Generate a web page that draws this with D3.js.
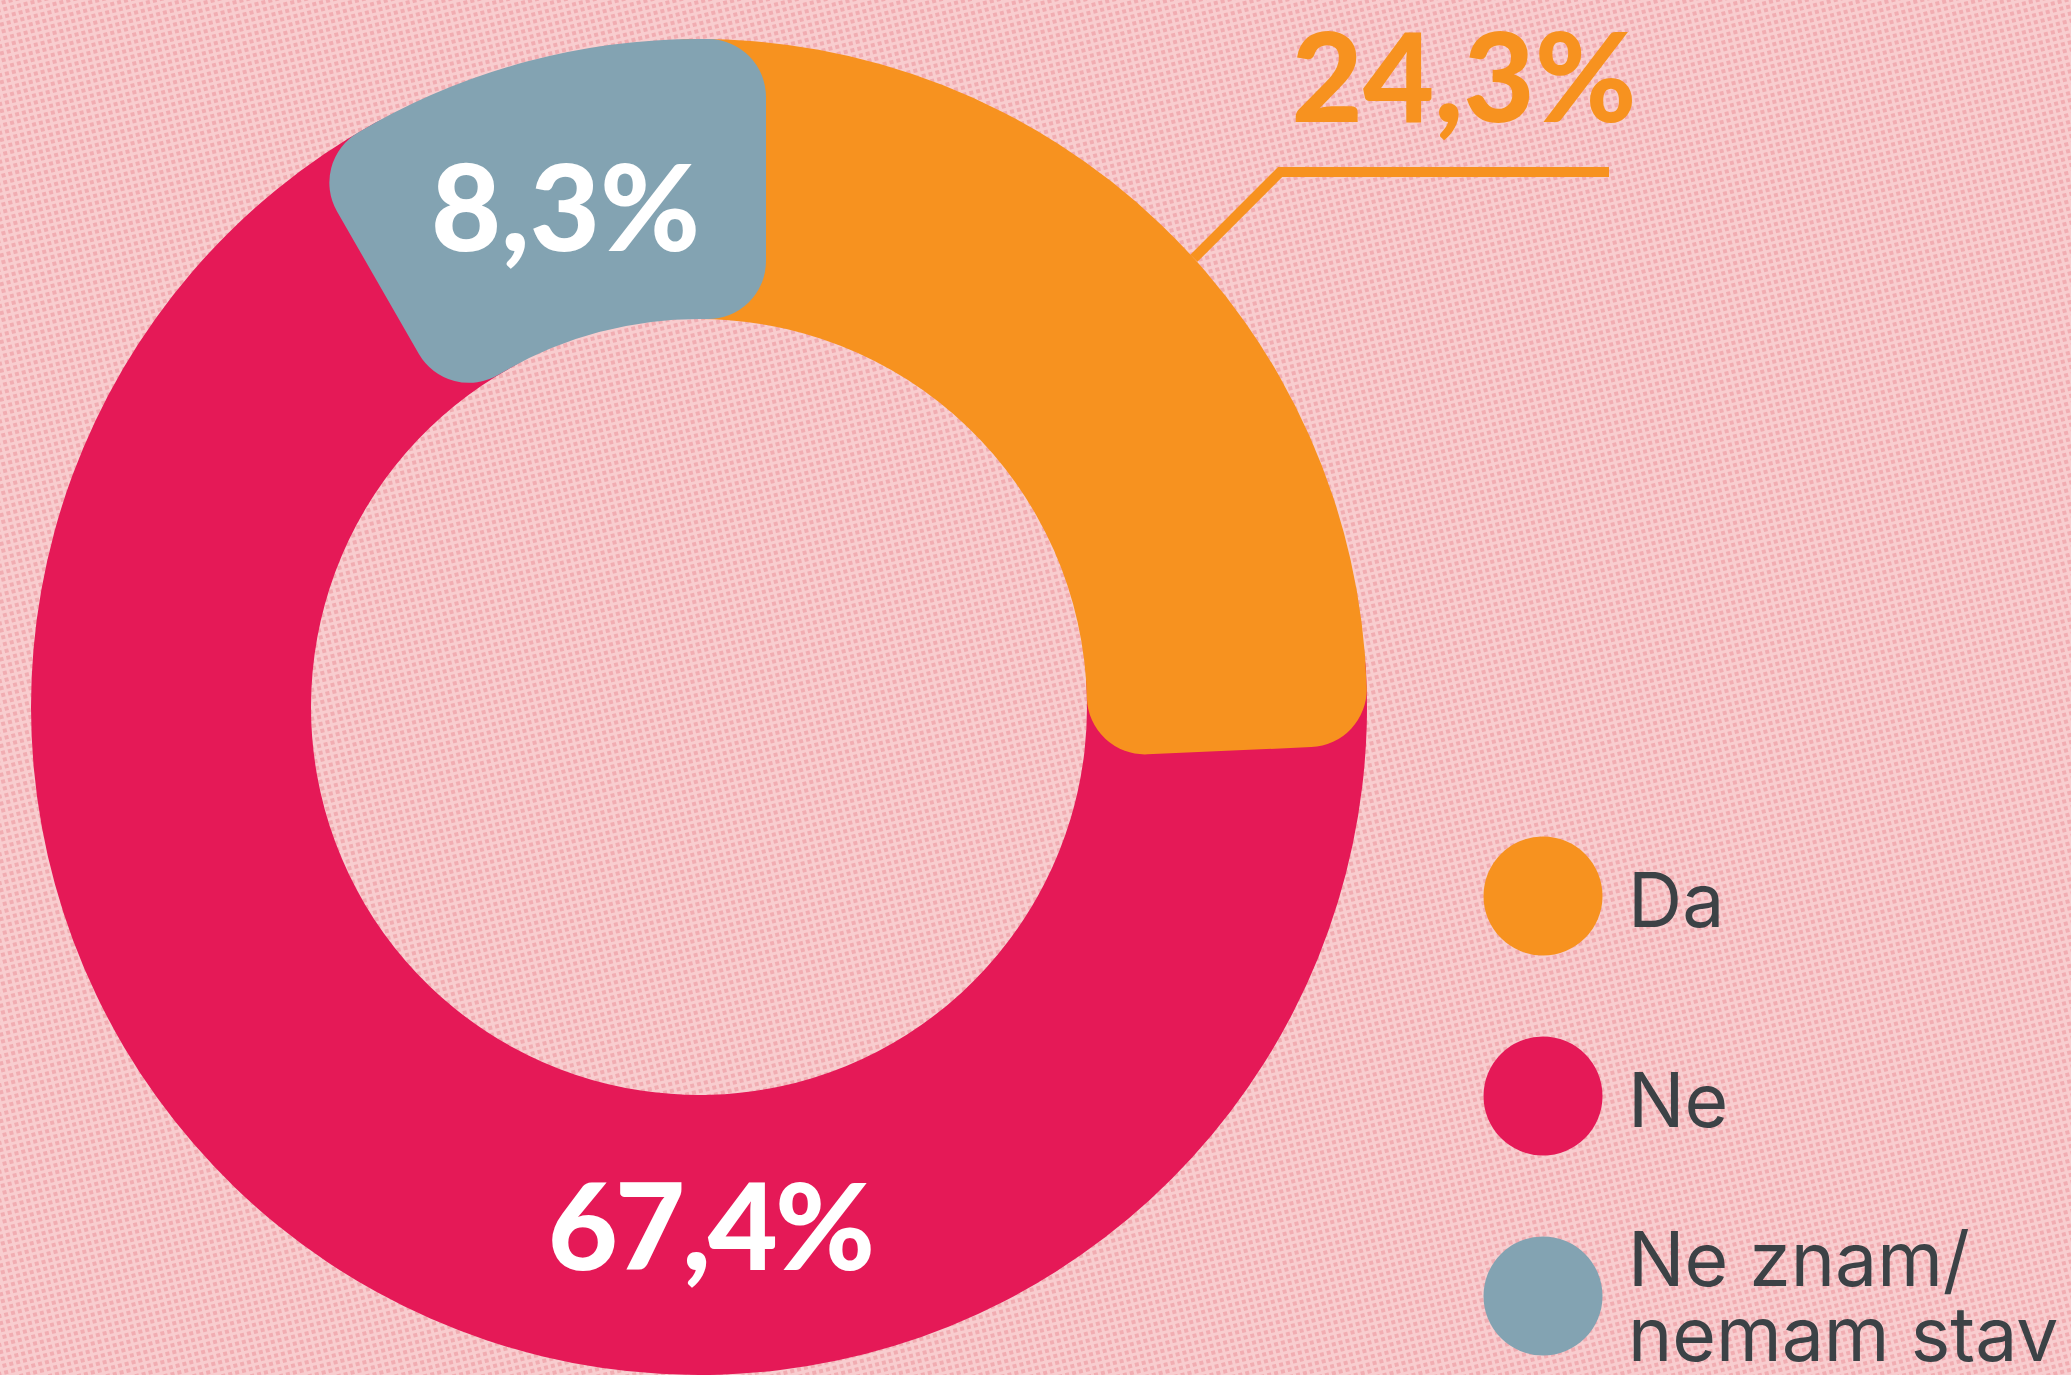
<!DOCTYPE html>
<html>
<head>
<meta charset="utf-8">
<script src="https://cdn.jsdelivr.net/npm/d3@7"></script>
<style>
html, body { margin: 0; padding: 0; background: #f6c4c6; overflow: hidden; }
</style>
</head>
<body>
<svg id="chart"></svg>
<script>
// data
const categories = ['Da', 'Ne', 'Ne znam/ nemam stav'];
const legendLines = [['Da'], ['Ne'], ['Ne znam/', 'nemam stav']];
const values = [24.3, 67.4, 8.3];
const valueLabels = ['24,3%', '67,4%', '8,3%'];
const colors = ['#f7921f', '#e51957', '#83a3b2'];

const width = 2071, height = 1375;
const cx = 699, cy = 707;
const outerR = 668, innerR = 388;
const overlap = 67;   // every slice runs this far past its own edge
const cornerR = 58;

const svg = d3.select('#chart')
    .attr('width', width)
    .attr('height', height);

// halftone-ish paper background
const defs = svg.append('defs');
const pat = defs.append('pattern')
    .attr('id', 'paper')
    .attr('width', 7)
    .attr('height', 7)
    .attr('patternUnits', 'userSpaceOnUse')
    .attr('patternTransform', 'rotate(-14)');
pat.append('rect').attr('width', 7).attr('height', 7).attr('fill', '#f8cdcf');
pat.append('rect').attr('x', 1).attr('y', 1).attr('width', 4).attr('height', 4).attr('fill', '#f1adb2');

svg.append('rect')
    .attr('width', width)
    .attr('height', height)
    .attr('fill', 'url(#paper)');

const pie = d3.pie().sort(null).value(d => d);
const arcs = pie(values);

// slice with its straight edges pushed out by `overlap`, rounded corners
function segmentPath(d) {
    const a0 = d.startAngle, a1 = d.endAngle;
    const us = [Math.sin(a0), -Math.cos(a0)], ns = [Math.cos(a0), Math.sin(a0)];
    const ue = [Math.sin(a1), -Math.cos(a1)], ne = [Math.cos(a1), Math.sin(a1)];

    function corner(u, n, edge, R, outer) {
        let off = edge > 0 ? edge - cornerR : edge + cornerR;
        let cr = outer ? R - cornerR : R + cornerR;
        let a = Math.sqrt(cr * cr - off * off);
        let k = R / cr;
        return {
            circ: [(a * u[0] + off * n[0]) * k, (a * u[1] + off * n[1]) * k],
            line: [a * u[0] + edge * n[0], a * u[1] + edge * n[1]]
        };
    }
    let so = corner(us, ns, -overlap, outerR, true);
    let eo = corner(ue, ne, overlap, outerR, true);
    let si = corner(us, ns, -overlap, innerR, false);
    let ei = corner(ue, ne, overlap, innerR, false);

    function ang(p) { return Math.atan2(p[0], -p[1]); }
    function large(p, q) {
        let s = ang(q) - ang(p);
        while (s < 0) s += 2 * Math.PI;
        return s > Math.PI ? 1 : 0;
    }
    const P = p => p[0] + ',' + p[1];
    return 'M' + P(so.circ) +
        'A' + outerR + ',' + outerR + ' 0 ' + large(so.circ, eo.circ) + ' 1 ' + P(eo.circ) +
        'A' + cornerR + ',' + cornerR + ' 0 0 1 ' + P(eo.line) +
        'L' + P(ei.line) +
        'A' + cornerR + ',' + cornerR + ' 0 0 1 ' + P(ei.circ) +
        'A' + innerR + ',' + innerR + ' 0 ' + large(si.circ, ei.circ) + ' 0 ' + P(si.circ) +
        'A' + cornerR + ',' + cornerR + ' 0 0 1 ' + P(si.line) +
        'L' + P(so.line) +
        'A' + cornerR + ',' + cornerR + ' 0 0 1 ' + P(so.circ) + 'Z';
}

const donut = svg.append('g')
    .attr('transform', 'translate(' + cx + ',' + cy + ')');

// Ne underneath, then Da, then Ne znam on top
const drawOrder = [1, 0, 2];
donut.selectAll('path.slice')
    .data(drawOrder.map(i => arcs[i]))
    .enter()
    .append('path')
    .attr('class', 'slice')
    .attr('d', segmentPath)
    .attr('fill', d => colors[d.index]);

const pctFont = 'Lato, "Open Sans", sans-serif';
const pctSize = 121;
const labelR = (outerR + innerR) / 2 - 10;

// inside labels
function labelAngle(d) {
    if (d.index === 1) return Math.PI * 0.9933; // big slice label sits at the bottom
    return (d.startAngle + d.endAngle) / 2;
}
donut.selectAll('text.inside')
    .data(arcs.filter(d => d.index !== 0))
    .enter()
    .append('text')
    .attr('class', 'inside')
    .attr('x', d => labelR * Math.sin(labelAngle(d)))
    .attr('y', d => -labelR * Math.cos(labelAngle(d)))
    .attr('dy', '0.37em')
    .attr('text-anchor', 'middle')
    .attr('font-family', pctFont)
    .attr('font-weight', 900)
    .attr('font-size', pctSize)
    .attr('letter-spacing', d => d.index === 1 ? -3 : 0)
    .attr('fill', '#ffffff')
    .text(d => valueLabels[d.index]);

// outside label for Da with leader line
const da = arcs[0];
const leadAngle = 47.8 * Math.PI / 180;
const p0 = [outerR * Math.sin(leadAngle), -outerR * Math.cos(leadAngle)];
const elbowY = 172 - cy;
const p1 = [p0[0] + (p0[1] - elbowY), elbowY];
const p2 = [1609 - cx, elbowY];
donut.append('path')
    .attr('d', d3.line()([p0, p1, p2]))
    .attr('fill', 'none')
    .attr('stroke', colors[da.index])
    .attr('stroke-width', 10);

donut.append('text')
    .attr('x', 1464 - cx)
    .attr('y', 122 - cy)
    .attr('text-anchor', 'middle')
    .attr('font-family', pctFont)
    .attr('font-weight', 900)
    .attr('font-size', pctSize + 2)
    .attr('fill', colors[da.index])
    .text(valueLabels[da.index]);

// legend
const legendY = d3.scaleLinear().domain([0, 1]).range([896, 1096]);
const legend = svg.append('g').attr('class', 'legend');
const items = legend.selectAll('g.item')
    .data(categories)
    .enter()
    .append('g')
    .attr('class', 'item')
    .attr('transform', (d, i) => 'translate(1543,' + legendY(i) + ')');

items.append('circle')
    .attr('r', 59.5)
    .attr('fill', (d, i) => colors[i]);

items.each(function (d, i) {
    let lines = legendLines[i];
    let t = d3.select(this).append('text')
        .attr('font-family', 'Inter, "Noto Sans", sans-serif')
        .attr('font-weight', 400)
        .attr('font-size', 75)
        .attr('fill', '#3c4246');
    lines.forEach(function (ln, j) {
        t.append('tspan')
            .attr('x', 85)
            .attr('y', lines.length === 1 ? 31 : -10 + j * 75)
            .text(ln);
    });
});
</script>
</body>
</html>
